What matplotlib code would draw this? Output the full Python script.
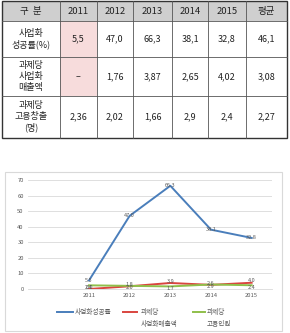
import matplotlib
matplotlib.use("Agg")
import matplotlib.pyplot as plt
from matplotlib.patches import Rectangle

plt.rcParams['font.family'] = ['Noto Sans CJK KR', 'DejaVu Sans']

years = ['2011', '2012', '2013', '2014', '2015']
header = ['구  분'] + years + ['평균']
row_labels = ['사업화\n성공률(%)', '과제당\n사업화\n매출액', '과제당\n고용창출\n(명)']
table_vals = [
    ['5,5', '47,0', '66,3', '38,1', '32,8', '46,1'],
    ['–', '1,76', '3,87', '2,65', '4,02', '3,08'],
    ['2,36', '2,02', '1,66', '2,9', '2,4', '2,27'],
]
success_rate = [5.5, 47.0, 66.3, 38.1, 32.8]
sales_per_task = [0.0, 1.76, 3.87, 2.65, 4.02]
jobs_per_task = [2.36, 2.02, 1.66, 2.9, 2.4]
series_names = ['사업화성공률', '과제당\n사업화매출액', '과제당\n고용인원']
y_ticks = [0, 10, 20, 30, 40, 50, 60, 70]

W, H = 290, 333
fig = plt.figure(figsize=(W / 100, H / 100), dpi=100)
bg = fig.add_axes([0, 0, 1, 1])
bg.set_xlim(0, W)
bg.set_ylim(H, 0)
bg.axis('off')

# ---- table ----
col_x = [2, 60, 97, 133, 172, 208, 246, 287]
row_y = [1, 21, 57, 96, 138]
bg.add_patch(Rectangle((col_x[0], row_y[0]), col_x[-1] - col_x[0], row_y[1] - row_y[0],
                       facecolor='#cfcfcf', edgecolor='none'))
bg.add_patch(Rectangle((col_x[1], row_y[1]), col_x[2] - col_x[1], row_y[3] - row_y[1],
                       facecolor='#f7dcdc', edgecolor='none'))
for xv in col_x[1:-1]:
    bg.plot([xv, xv], [row_y[0], row_y[-1]], color='#555555', lw=0.6)
for yv in row_y[1:-1]:
    bg.plot([col_x[0], col_x[-1]], [yv, yv], color='#555555', lw=0.6)
bg.add_patch(Rectangle((col_x[0], row_y[0]), col_x[-1] - col_x[0], row_y[-1] - row_y[0],
                       facecolor='none', edgecolor='#333333', lw=1.0))
for i, h in enumerate(header):
    bg.text((col_x[i] + col_x[i + 1]) / 2, (row_y[0] + row_y[1]) / 2 + 0.5, h,
            ha='center', va='center', fontsize=6.8, color='#222222')
for r in range(3):
    cy = (row_y[r + 1] + row_y[r + 2]) / 2
    bg.text((col_x[0] + col_x[1]) / 2, cy, row_labels[r], ha='center', va='center',
            fontsize=6.5, color='#222222', linespacing=1.25)
    for c in range(6):
        bg.text((col_x[c + 1] + col_x[c + 2]) / 2, cy, table_vals[r][c], ha='center',
                va='center', fontsize=6.5, color='#222222')

# ---- chart frame ----
bg.add_patch(Rectangle((5, 172), 277, 159, facecolor='white', edgecolor='#d9d9d9', lw=0.8))

ax = fig.add_axes([28 / W, 1 - 289 / H, (272 - 28) / W, (289 - 180) / H])
x = list(range(len(years)))
colors = ['#4a7ebb', '#d9453f', '#8fbf4a']
all_series = [success_rate, sales_per_task, jobs_per_task]
for vals, col in zip(all_series, colors):
    ax.plot(x, vals, color=col, lw=1.4, zorder=3)
# data labels: blue centred, red slightly above, green slightly below
offsets = [0.0, 1.2, -1.2]
for vals, off in zip(all_series, offsets):
    for xi, v in zip(x, vals):
        ax.text(xi, v + off, f'{v:.1f}', ha='center', va='center', fontsize=4.0,
                color='#595959', zorder=4)
ax.set_xlim(-1.5, 4.5)
ax.set_ylim(0, 70)
ax.set_yticks(y_ticks)
ax.set_xticks(x)
ax.set_xticklabels(years)
ax.tick_params(axis='both', length=0, labelsize=4.2, labelcolor='#595959', pad=3)
ax.grid(axis='y', color='#d9d9d9', lw=0.6)
ax.set_axisbelow(True)
for s in ['top', 'right', 'left']:
    ax.spines[s].set_visible(False)
ax.spines['bottom'].set_color('#d9d9d9')
ax.spines['bottom'].set_linewidth(0.6)

# ---- legend ----
leg_items = [(57, 73, 75), (123, 137, 141), (193, 205, 207)]
for (x0, x1, tx), col, name in zip(leg_items, colors, series_names):
    bg.plot([x0, x1], [312, 312], color=col, lw=1.4)
    lines = name.split('\n')
    bg.text(tx, 312, lines[0], ha='left', va='center', fontsize=4.8, color='#595959')
    if len(lines) > 1:
        bg.text(tx, 324, lines[1], ha='left', va='center', fontsize=4.8, color='#595959')

fig.savefig('out.png', dpi=100)
